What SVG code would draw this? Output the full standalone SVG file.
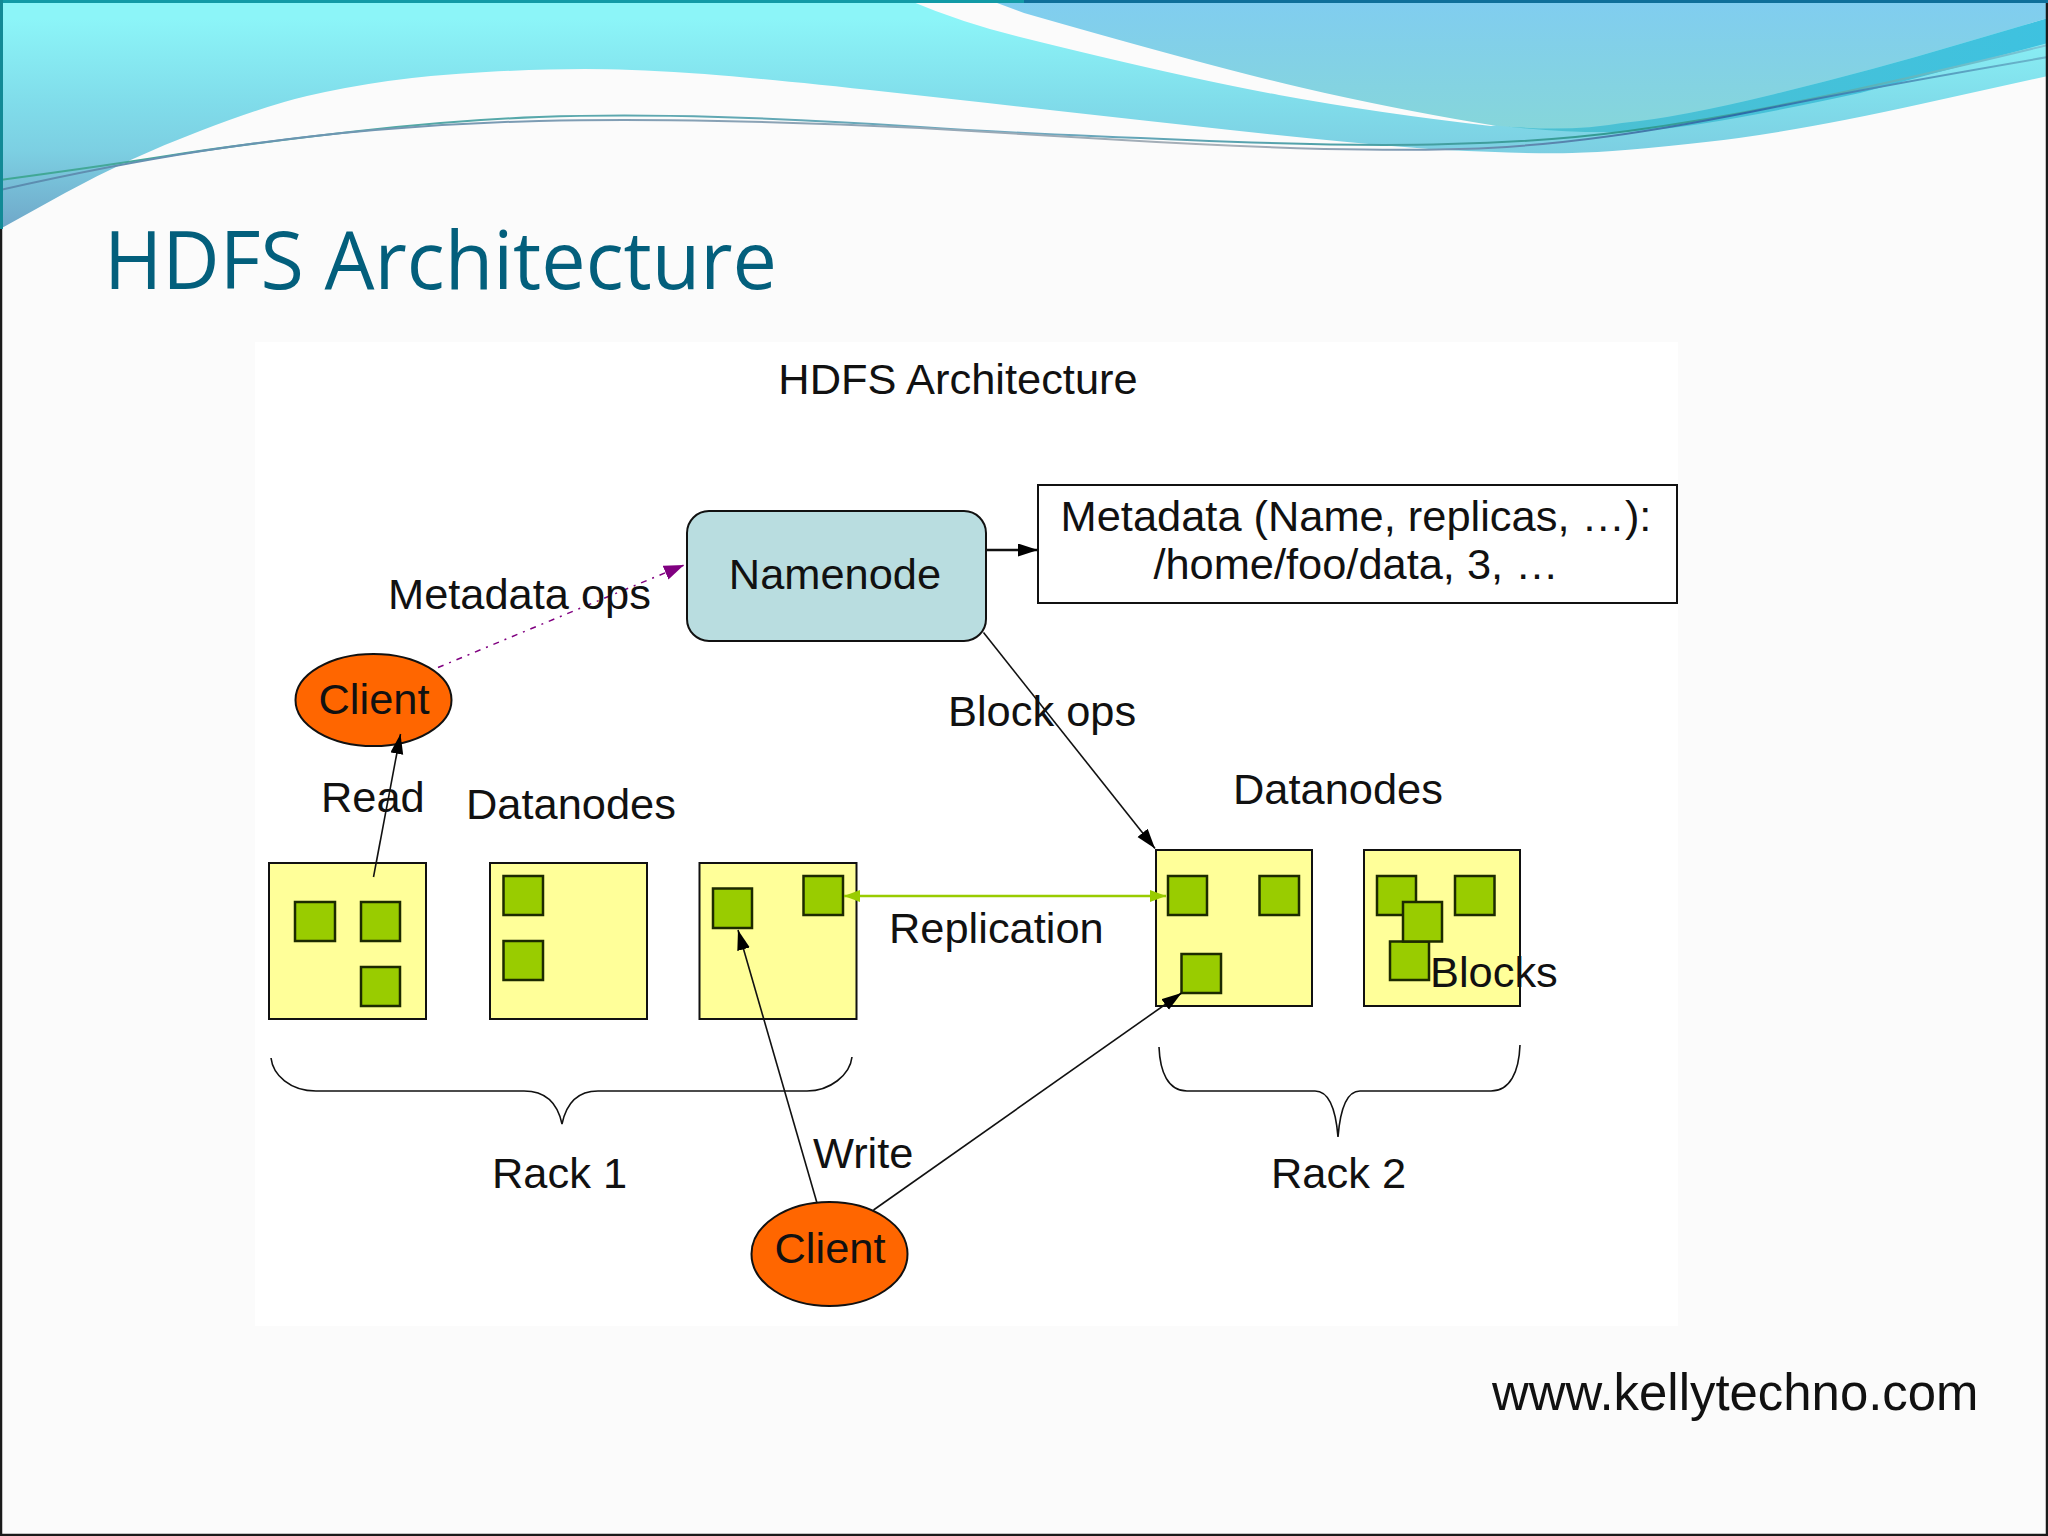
<svg xmlns="http://www.w3.org/2000/svg" width="2048" height="1536" viewBox="0 0 2048 1536">
<style>
.t{font-family:"Liberation Sans",Arial,sans-serif;font-size:43.4px;fill:#111}
.m{text-anchor:middle}
.dn{fill:#ffff99;stroke:#111;stroke-width:2}
.bk{fill:#99cc00;stroke:#1c2a00;stroke-width:2.5}
.cl{fill:#ff6600;stroke:#111;stroke-width:2}
.ln{fill:none;stroke:#111;stroke-width:1.6}
.br{fill:none;stroke:#111;stroke-width:1.6}
</style>
<defs>
<linearGradient id="gc" gradientUnits="userSpaceOnUse" x1="0" y1="0" x2="0" y2="230"><stop offset=".08" stop-color="#8cf5f8"/><stop offset=".45" stop-color="#80dcea"/><stop offset=".66" stop-color="#7ccfe2"/><stop offset="1" stop-color="#6fa6c8"/></linearGradient>
<linearGradient id="gb" gradientUnits="userSpaceOnUse" x1="0" y1="0" x2="0" y2="130"><stop offset="0" stop-color="#80cdf0"/><stop offset="1" stop-color="#86d6da"/></linearGradient>
<linearGradient id="gn" gradientUnits="userSpaceOnUse" x1="1500" y1="0" x2="2048" y2="0"><stop offset="0" stop-color="#4ec0d0"/><stop offset="1" stop-color="#3ec2e0"/></linearGradient>
<linearGradient id="ga" gradientUnits="userSpaceOnUse" x1="0" y1="0" x2="2048" y2="0"><stop offset="0" stop-color="#3fa894"/><stop offset=".5" stop-color="#6fa8c0"/><stop offset=".8" stop-color="#2f9a90"/><stop offset="1" stop-color="#7cc6d8"/></linearGradient>
<linearGradient id="gd" gradientUnits="userSpaceOnUse" x1="0" y1="0" x2="2048" y2="0"><stop offset="0" stop-color="#5a8cb0"/><stop offset=".6" stop-color="#a8b0b8"/><stop offset=".85" stop-color="#2c6ca8"/><stop offset="1" stop-color="#6cb8cc"/></linearGradient>
<marker id="ak" markerUnits="userSpaceOnUse" markerWidth="22" markerHeight="14" refX="20" refY="6.5" orient="auto-start-reverse"><path d="M0,0L20,6.5L0,13z" fill="#000"/></marker>
<marker id="ap" markerUnits="userSpaceOnUse" markerWidth="22" markerHeight="16" refX="20" refY="7.5" orient="auto"><path d="M0,0L20,7.5L0,15z" fill="#800080"/></marker>
<marker id="ag" markerUnits="userSpaceOnUse" markerWidth="18" markerHeight="14" refX="16" refY="6" orient="auto-start-reverse"><path d="M0,0L16,6L0,12z" fill="#99cc00"/></marker>
</defs>
<rect width="2048" height="1536" fill="#fbfbfb"/>
<g id="waves">
<path fill="url(#gc)" d="M0,0L908,0Q965,24 1024,38Q1181,77 1279,95Q1377,113 1491,126L2048,20L2048,76L1921,104Q1795,132 1706,142Q1618,152 1572,153Q1527,154 1445,150Q1364,145 1194,126Q1024,107 888,92Q751,77 689,73Q627,69 585,69Q542,69 486,72Q431,75 388,81Q346,87 307,96Q268,105 200,131Q131,157 65,193L0,229Z"/>
<path d="M989,0L1024,13Q1233,73 1325,93Q1416,113 1491,125Q1566,133 1622,123Q1677,118 1775,94Q1873,70 1960,44L2048,18L2048,0Z" fill="url(#gb)"/>
<path d="M1491,125Q1566,133 1622,123Q1677,118 1775,94Q1873,70 1960,44L2048,18L2048,43L1860,93Q1704,127 1648,130Q1592,136 1491,125Z" fill="url(#gn)"/>
<path d="M0,180Q111,165 186,153Q261,142 359,131Q457,120 539,117Q620,114 718,117Q816,120 920,127Q1024,134 1187,140Q1351,147 1448,144Q1546,142 1628,131Q1710,120 1791,103Q1873,87 2048,45" fill="none" stroke="url(#ga)" stroke-width="2"/>
<path d="M0,190Q111,165 202,151Q294,137 375,130Q457,123 539,121Q620,119 718,121Q816,123 920,128Q1024,134 1122,140Q1220,146 1324,149Q1429,151 1488,148Q1546,145 1611,136Q1677,127 1775,107Q1873,87 2048,57" fill="none" stroke="url(#gd)" stroke-width="2"/>
</g>
<rect x="1" y="1" width="2046" height="1534" fill="none" stroke="#1a1a1a" stroke-width="2.5"/>
<path d="M0,1.5H1024" stroke="#129aa6" stroke-width="3"/><path d="M1024,1.5H2048" stroke="#0e6f9a" stroke-width="3"/><path d="M1.5,0V229" stroke="#128a96" stroke-width="3"/>
<text x="104" y="289" font-family="'Open Sans','Noto Sans',sans-serif" font-size="81" fill="#035f7c" textLength="673" lengthAdjust="spacingAndGlyphs">HDFS Architecture</text>
<rect id="panel" x="255" y="342" width="1423" height="984" fill="#fff"/>
<g id="namenode"><rect x="687" y="511" width="299" height="130" rx="22" fill="#b9dde0" stroke="#111" stroke-width="2"/><text class="t m" x="835" y="589">Namenode</text></g>
<g id="metadata"><rect x="1038" y="485" width="639" height="118" fill="#fff" stroke="#111" stroke-width="2"/><text class="t m" x="1356" y="531">Metadata (Name, replicas, …):</text><text class="t m" x="1356" y="579">/home/foo/data, 3, …</text></g>
<g id="client-read"><ellipse class="cl" cx="373.5" cy="700" rx="78" ry="46"/><text class="t m" x="374" y="714">Client</text></g>
<g id="client-write"><ellipse class="cl" cx="829.5" cy="1254" rx="78" ry="52"/><text class="t m" x="830" y="1263">Client</text></g>
<g id="datanode-1"><rect class="dn" x="269" y="863" width="157" height="156"/><rect class="bk" x="295" y="902" width="40" height="39"/><rect class="bk" x="361" y="902" width="39" height="39"/><rect class="bk" x="361" y="967" width="39" height="39"/></g>
<g id="datanode-2"><rect class="dn" x="490" y="863" width="157" height="156"/><rect class="bk" x="503.500" y="876" width="39.500" height="39"/><rect class="bk" x="503.500" y="941" width="39.500" height="39"/></g>
<g id="datanode-3"><rect class="dn" x="699.500" y="863" width="157" height="156"/><rect class="bk" x="713" y="888.500" width="39" height="39.500"/><rect class="bk" x="803.500" y="876" width="39.500" height="39"/></g>
<g id="datanode-4"><rect class="dn" x="1156" y="850" width="156" height="156"/><rect class="bk" x="1168" y="876" width="39" height="39"/><rect class="bk" x="1259.500" y="876" width="39.500" height="39"/><rect class="bk" x="1181.500" y="954" width="39.500" height="39"/></g>
<g id="datanode-5"><rect class="dn" x="1364" y="850" width="156" height="156"/><rect class="bk" x="1377" y="876" width="39" height="39"/><rect class="bk" x="1455" y="876" width="39.500" height="39"/><rect class="bk" x="1390" y="941.500" width="39" height="38.500"/><rect class="bk" x="1403" y="902" width="39" height="39.500"/></g>
<g id="connectors">
<line class="ln" x1="373.500" y1="877" x2="400.500" y2="734" marker-end="url(#ak)"/>
<line x1="438" y1="667.500" x2="684" y2="565" fill="none" stroke="#800080" stroke-width="1.500" stroke-dasharray="6 6 2 6" marker-end="url(#ap)"/>
<line x1="986" y1="550" x2="1038" y2="550" stroke="#111" stroke-width="2.500" marker-end="url(#ak)"/>
<line class="ln" x1="983.500" y1="632.500" x2="1155" y2="848.500" marker-end="url(#ak)"/>
<line x1="844" y1="896" x2="1166" y2="896" stroke="#99cc00" stroke-width="2.500" marker-start="url(#ag)" marker-end="url(#ag)"/>
<line class="ln" x1="817" y1="1203" x2="738" y2="930" marker-end="url(#ak)"/>
<line class="ln" x1="873.500" y1="1210" x2="1181.500" y2="993" marker-end="url(#ak)"/>
</g>
<g id="braces">
<path class="br" d="M271,1058C273,1075 290,1091 316,1091L524,1091C548,1091 558,1105 562,1124C566,1105 576,1091 598,1091L807,1091C830,1091 850,1075 852,1057"/>
<path class="br" d="M1159,1047C1160,1072 1168,1091 1187,1091L1315,1091C1330,1091 1336,1112 1338,1137C1340,1112 1346,1091 1360,1091L1491,1091C1510,1091 1519,1072 1520,1045"/>
</g>
<g id="labels">
<text class="t m" x="958" y="394">HDFS Architecture</text>
<text class="t" x="388" y="609">Metadata ops</text>
<text class="t" x="321" y="812">Read</text>
<text class="t" x="466" y="819">Datanodes</text>
<text class="t" x="889" y="943">Replication</text>
<text class="t" x="948" y="726">Block ops</text>
<text class="t" x="1233" y="804">Datanodes</text>
<text class="t" x="1430" y="987">Blocks</text>
<text class="t" x="492" y="1188">Rack 1</text>
<text class="t" x="1271" y="1188">Rack 2</text>
<text class="t" x="813" y="1168">Write</text>
</g>
<text id="url" x="1492" y="1410" font-family="'Liberation Sans',Arial,sans-serif" font-size="50.900" fill="#111">www.kellytechno.com</text>
</svg>
